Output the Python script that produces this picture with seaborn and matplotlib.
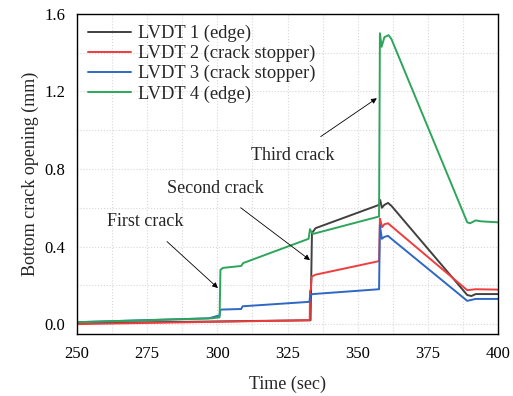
import seaborn as sns
import matplotlib.pyplot as plt
from matplotlib.ticker import MultipleLocator
import pandas as pd

# Datos (tiempo en s, apertura en mm)
t1 = [250, 333.2, 333.7, 335, 357.6, 358.0, 358.6, 359.5, 360.8, 362, 389, 390.5, 392, 400]
v1 = [0.005, 0.02, 0.47, 0.495, 0.615, 0.64, 0.60, 0.615, 0.625, 0.61, 0.15, 0.145, 0.155, 0.155]

t2 = [250, 332.9, 333.0, 333.3, 333.6, 335, 357.6, 357.9, 358.7, 359.5, 360.8, 362, 389, 392, 400]
v2 = [0.0, 0.02, 0.17, 0.18, 0.245, 0.255, 0.325, 0.545, 0.50, 0.515, 0.52, 0.505, 0.175, 0.18, 0.178]

t3 = [250, 297, 299.5, 300.8, 301.1, 308.5, 309, 332.8, 333.1, 334, 357.6, 357.9, 358.6, 359.5, 360.8, 362, 389, 390.5, 392, 400]
v3 = [0.01, 0.03, 0.04, 0.045, 0.075, 0.078, 0.092, 0.115, 0.15, 0.155, 0.18, 0.51, 0.44, 0.45, 0.455, 0.44, 0.12, 0.125, 0.13, 0.13]

t4 = [250, 298, 300.8, 301.1, 302, 308.5, 309.2, 332.5, 333.0, 333.3, 334, 357.6, 357.9, 358.5, 359.5, 361, 362, 389, 390, 392, 394, 400]
v4 = [0.01, 0.03, 0.035, 0.28, 0.29, 0.30, 0.315, 0.44, 0.49, 0.48, 0.465, 0.555, 1.50, 1.43, 1.48, 1.49, 1.47, 0.525, 0.52, 0.535, 0.53, 0.525]

labels = ["LVDT 1 (edge)", "LVDT 2 (crack stopper)", "LVDT 3 (crack stopper)", "LVDT 4 (edge)"]
colores = ["#404040", "#F03C3C", "#2F67C5", "#2DA55A"]

# Tabla larga para seaborn
partes = []
for t, v, lab in zip([t1, t2, t3, t4], [v1, v2, v3, v4], labels):
    partes.append(pd.DataFrame({"t": t, "v": v, "serie": lab}))
df = pd.concat(partes, ignore_index=True)

sns.set_style("white")
plt.rcParams['font.family'] = ['Liberation Serif', 'DejaVu Serif']

fig = plt.figure(figsize=(5.13, 3.96), dpi=100)
ax = fig.add_axes([0.150, 0.157, 0.821, 0.808])

sns.lineplot(data=df, x="t", y="v", hue="serie", hue_order=labels, palette=colores,
             estimator=None, linewidth=1.4, ax=ax)

# Ejes
ax.set_xlim(250, 400)
ax.set_ylim(-0.05, 1.6)
ax.xaxis.set_major_locator(MultipleLocator(25))
ax.xaxis.set_minor_locator(MultipleLocator(12.5))
ax.yaxis.set_major_locator(MultipleLocator(0.4))
ax.yaxis.set_minor_locator(MultipleLocator(0.2))
ax.yaxis.set_major_formatter(plt.FuncFormatter(lambda y, p: f"{y:.1f}"))
ax.tick_params(which="major", direction="out", length=5, width=1, labelsize=12, colors="black")
ax.tick_params(which="minor", direction="in", length=3, width=1)
ax.grid(True, which="both", color="#d8d8d8", linestyle=":", linewidth=0.8)
for s in ax.spines.values():
    s.set_color("black")
    s.set_linewidth(1.0)

ax.set_xlabel("Time (sec)", fontsize=13, labelpad=10)
ax.set_ylabel("Bottom crack opening (mm)", fontsize=13)

# Anotaciones de grietas
flecha = dict(arrowstyle="-|>", color="black", lw=0.6, mutation_scale=8)
ax.annotate("First crack", xy=(300.2, 0.186), xytext=(274.2, 0.53), fontsize=13,
            ha="center", va="center", arrowprops=dict(flecha, shrinkA=9, shrinkB=0))
ax.annotate("Second crack", xy=(333.0, 0.33), xytext=(299.2, 0.70), fontsize=13,
            ha="center", va="center", arrowprops=dict(flecha, shrinkA=9, shrinkB=0))
ax.annotate("Third crack", xy=(356.8, 1.165), xytext=(327.0, 0.87), fontsize=13,
            ha="center", va="center", arrowprops=dict(flecha, shrinkA=9, shrinkB=0))

ax.legend(loc="upper left", frameon=False, fontsize=13.3, handlelength=2.3,
          borderaxespad=0.2, labelspacing=0.15, handletextpad=0.4)

fig.savefig("out.png", dpi=100)
